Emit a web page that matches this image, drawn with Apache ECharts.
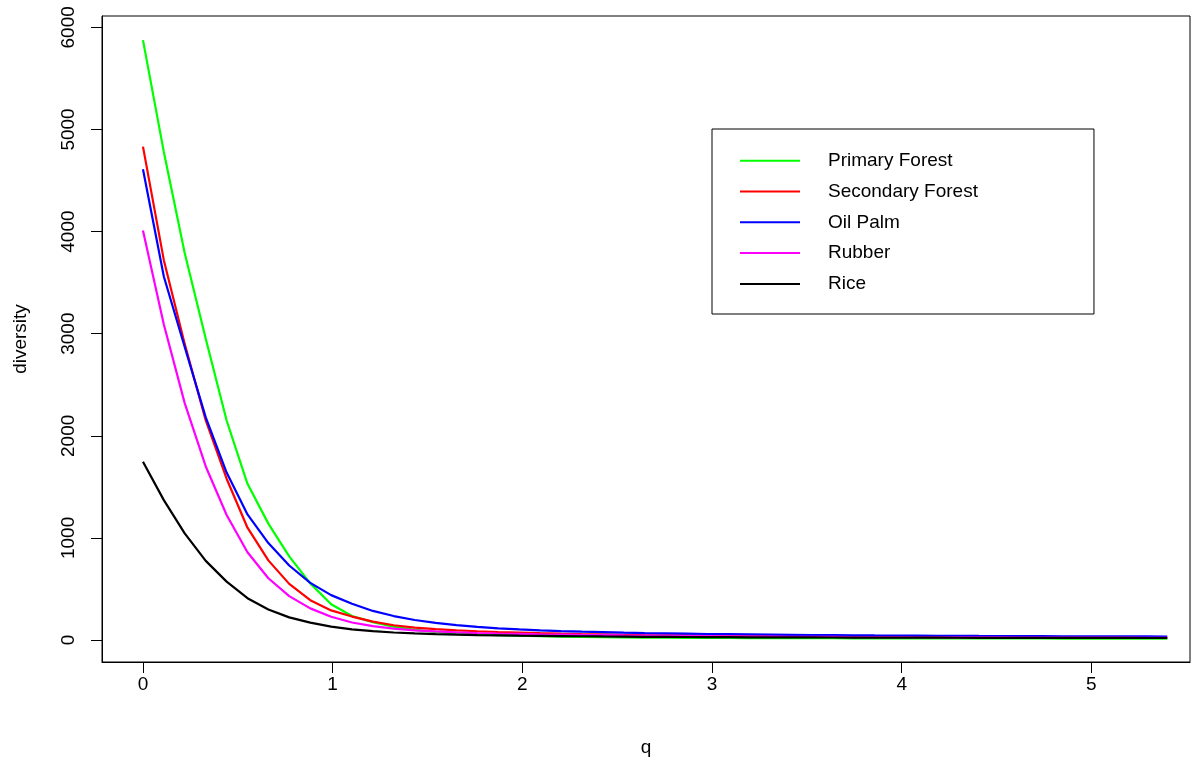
<!DOCTYPE html>
<html>
<head>
<meta charset="utf-8">
<script src="https://cdn.jsdelivr.net/npm/echarts@6/dist/echarts.min.js"></script>
<style>html,body{margin:0;padding:0;background:#fff}#c{width:1201px;height:762px}</style>
</head>
<body>
<div id="c"></div>
<script>
const qValues = [0, 0.110, 0.220, 0.331, 0.441, 0.551, 0.661, 0.771, 0.882, 0.992, 1.102, 1.212, 1.322, 1.433, 1.543, 1.653, 1.763, 1.873, 1.984, 2.094, 2.204, 2.314, 2.424, 2.535, 2.645, 2.755, 2.865, 2.976, 3.086, 3.196, 3.306, 3.416, 3.527, 3.637, 3.747, 3.857, 3.967, 4.078, 4.188, 4.298, 4.408, 4.518, 4.629, 4.739, 4.849, 4.959, 5.069, 5.180, 5.290, 5.400];

const primaryForest = [5875, 4780, 3790, 2950, 2150, 1530, 1140, 820, 555, 350, 235, 175, 130, 100, 80, 66, 56, 49, 43,
  38, 34, 31, 28, 26, 24, 23, 22, 21, 20, 19.5, 19, 18.5, 18, 17.6, 17.2, 16.8, 16.5, 16.2, 16, 15.7, 15.5, 15.3, 15.1, 14.9, 14.7, 14.5, 14.3, 14.2, 14, 13.9];
const secondaryForest = [4832, 3720, 2900, 2150, 1580, 1100, 780, 550, 390, 290, 230, 180, 145, 122, 106, 95, 86, 79, 73,
  67, 62, 58, 55, 52, 49, 47, 45, 43, 41, 39.5, 38, 37, 36, 35, 34, 33, 32, 31, 30, 29.5, 29, 28.5, 28, 27.5, 27, 26.5, 26, 25.5, 25, 24.5];
const oilPalm = [4610, 3560, 2870, 2180, 1640, 1230, 950, 730, 560, 440, 355, 285, 235, 196, 168, 146, 129, 115, 104,
  95, 88, 82, 77, 72, 68, 65, 62, 59, 57, 55, 53, 51, 49.5, 48, 46.5, 45, 44, 43, 42, 41, 40, 39.2, 38.5, 37.8, 37.2, 36.6, 36, 35.5, 35, 34.5];
const rubber = [4010, 3090, 2320, 1700, 1225, 860, 605, 430, 310, 228, 172, 136, 111, 95, 84, 76, 69, 64, 60,
  56, 53, 50, 47.5, 45, 43, 41, 39, 37.5, 36, 34.5, 33.5, 32.5, 31.5, 30.5, 29.5, 29, 28.3, 27.6, 27, 26.5, 26, 25.5, 25, 24.5, 24, 23.6, 23.2, 22.8, 22.4, 22];
const rice = [1746, 1370, 1045, 775, 572, 410, 300, 222, 170, 132, 105, 87, 74, 65, 58, 53, 49, 46, 43,
  41, 39, 37, 35, 33.5, 32, 31, 30, 29, 28, 27, 26.5, 26, 25.5, 25, 24.5, 24, 23.6, 23.2, 22.8, 22.5, 22.2, 21.9, 21.6, 21.3, 21, 20.8, 20.6, 20.4, 20.2, 20];

const seriesNames = ['Primary Forest', 'Secondary Forest', 'Oil Palm', 'Rubber', 'Rice'];
const seriesColors = ['#00FF00', '#FF0000', '#0000FF', '#FF00FF', '#000000'];
const seriesValues = [primaryForest, secondaryForest, oilPalm, rubber, rice];
const xTicks = [0, 1, 2, 3, 4, 5];
const yTicks = [0, 1000, 2000, 3000, 4000, 5000, 6000];

const font = 'Liberation Sans, Arial, Helvetica, sans-serif';
const chart = echarts.init(document.getElementById('c'), null, {renderer: 'canvas'});

chart.setOption({
  animation: false,
  backgroundColor: '#ffffff',
  grid: {left: 102, right: 11, top: 16, bottom: 100, show: true, borderColor: '#000', borderWidth: 1, backgroundColor: 'transparent'},
  legend: {
    orient: 'vertical',
    left: 712, top: 129,
    data: seriesNames,
    icon: 'path://M0,0 L60,0 L60,2 L0,2 Z',
    itemWidth: 60, itemHeight: 2,
    itemGap: 11.8,
    padding: [22.2, 116, 20.6, 28],
    borderColor: '#000', borderWidth: 1,
    textStyle: {fontFamily: font, fontSize: 19, color: '#000', padding: [0, 0, 0, 23]},
    selectedMode: false
  },
  xAxis: {
    type: 'value', min: -0.216, max: 5.52,
    name: 'q', nameLocation: 'middle', nameGap: 76,
    nameTextStyle: {fontFamily: font, fontSize: 19, color: '#000'},
    axisLine: {show: true, onZero: false, lineStyle: {color: '#000', width: 1}},
    axisTick: {show: true, length: 11, lineStyle: {color: '#000'}, customValues: xTicks},
    axisLabel: {fontFamily: font, fontSize: 19, color: '#000', margin: 13, customValues: xTicks, formatter: v => String(v)},
    splitLine: {show: false}
  },
  yAxis: {
    type: 'value', min: -215, max: 6111,
    name: 'diversity', nameLocation: 'middle', nameGap: 72, nameRotate: 90,
    nameTextStyle: {fontFamily: font, fontSize: 19, color: '#000'},
    axisLine: {show: true, onZero: false, lineStyle: {color: '#000', width: 1}},
    axisTick: {show: true, length: 11, lineStyle: {color: '#000'}, customValues: yTicks},
    axisLabel: {fontFamily: font, fontSize: 19, color: '#000', margin: 24, rotate: 90, customValues: yTicks, formatter: v => String(v)},
    splitLine: {show: false}
  },
  series: seriesNames.map((name, k) => ({
    name: name,
    type: 'line',
    data: qValues.map((q, i) => [q, seriesValues[k][i]]),
    symbol: 'none',
    smooth: false,
    color: seriesColors[k],
    itemStyle: {color: seriesColors[k]},
    lineStyle: {color: seriesColors[k], width: 2.2}
  }))
});
</script>
</body>
</html>
